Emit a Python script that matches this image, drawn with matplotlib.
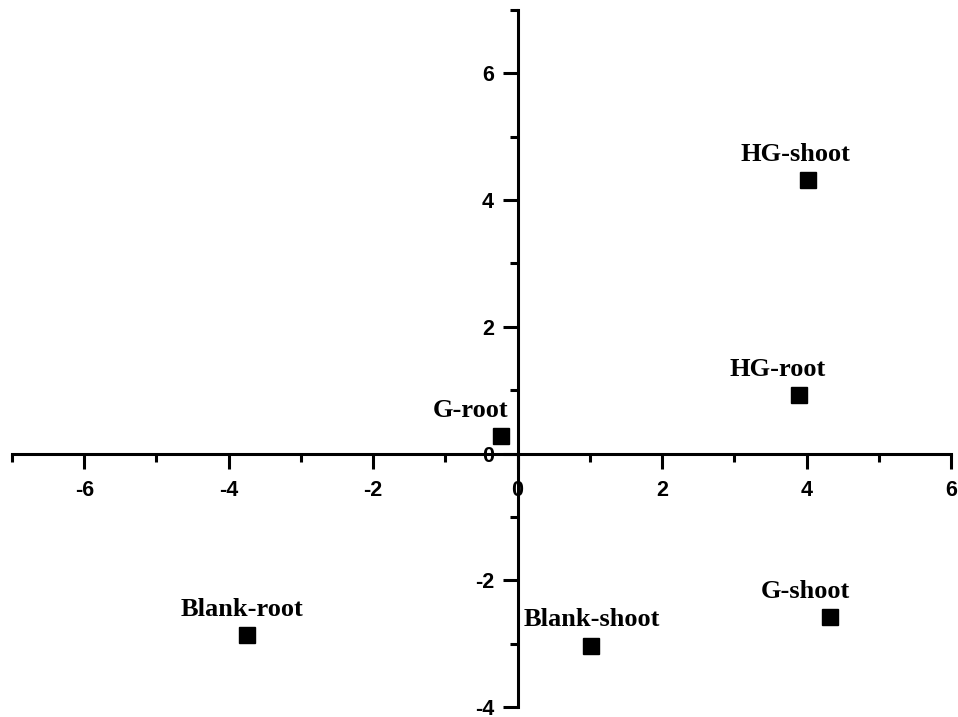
import matplotlib
matplotlib.use('Agg')
import matplotlib.pyplot as plt
from matplotlib.ticker import MultipleLocator

# sample scores
names = ['HG-shoot', 'HG-root', 'G-root', 'Blank-root', 'Blank-shoot', 'G-shoot']
pc1 = [4.02, 3.89, -0.23, -3.74, 1.02, 4.32]
pc2 = [4.32, 0.92, 0.28, -2.87, -3.03, -2.58]

# label offsets from each marker, in pixels (x, y)
label_off = [(-13, 19), (-21, 19), (-30, 19), (-5, 19), (1, 20), (-24, 19)]

fig = plt.figure(figsize=(9.58, 7.17), dpi=100)
ax = fig.add_axes([12 / 958, 10 / 717, 939 / 958, 697 / 717])

ax.plot(pc1, pc2, 's', color='black', markersize=11.5, linestyle='none')

for n, x, y, off in zip(names, pc1, pc2, label_off):
    ax.annotate(n, (x, y), xytext=off, textcoords='offset pixels',
                ha='center', va='baseline', fontsize=19, fontweight='bold',
                family='Liberation Serif', color='black')

ax.set_xlim(-7, 6)
ax.set_ylim(-4, 7)

ax.spines['left'].set_position(('data', 0))
ax.spines['bottom'].set_position(('data', 0))
ax.spines['top'].set_visible(False)
ax.spines['right'].set_visible(False)
for s in ['left', 'bottom']:
    ax.spines[s].set_linewidth(2.2)

ax.xaxis.set_major_locator(MultipleLocator(2))
ax.xaxis.set_minor_locator(MultipleLocator(1))
ax.yaxis.set_major_locator(MultipleLocator(2))
ax.yaxis.set_minor_locator(MultipleLocator(1))

ax.tick_params(which='major', direction='out', length=11, width=2.2)
ax.tick_params(which='minor', direction='out', length=5.5, width=2.2)
ax.tick_params(axis='x', which='major', pad=8)
ax.tick_params(axis='y', which='major', pad=6)

for lab in ax.get_xticklabels() + ax.get_yticklabels():
    lab.set_family('Liberation Sans')
    lab.set_fontweight('bold')
    lab.set_fontsize(15.5)

ax.set_xticklabels([str(int(v)) for v in ax.get_xticks()])
ax.set_yticklabels([str(int(v)) for v in ax.get_yticks()])
for lab in ax.get_xticklabels() + ax.get_yticklabels():
    lab.set_family('Liberation Sans')
    lab.set_fontweight('bold')
    lab.set_fontsize(15.5)

fig.savefig('out.png', dpi=100)
